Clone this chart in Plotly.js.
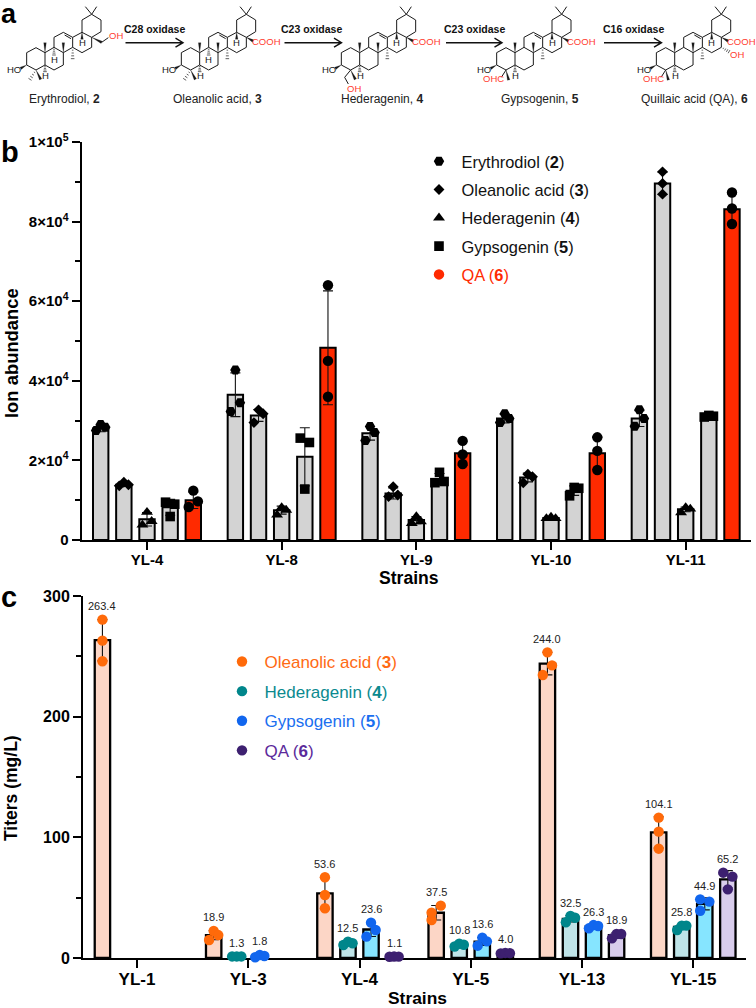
<!DOCTYPE html>
<html><head><meta charset="utf-8">
<script src="https://cdn.plot.ly/plotly-3.0.1.min.js"></script>
<style>html,body{margin:0;padding:0;background:#fff}</style></head>
<body><div id="chart" style="width:756px;height:1008px"></div>
<script>
// ---------- Panel b data ----------
const bStrains = ["YL-4","YL-8","YL-9","YL-10","YL-11"];
const bErythrodiolMean = [28000,36500,26800,30500,30500];
const bErythrodiolSd   = [800,5500,1700,1100,2000];
const bErythrodiolPts  = [[27500,29000,28300],[32300,42700,34500],[25000,28500,27000],[29500,31700,30500],[28600,32700,30500]];
const bOleanolicMean = [13900,31300,11700,15700,89600];
const bOleanolicSd   = [400,1500,1400,1100,2800];
const bOleanolicPts  = [[13600,14500,13900],[29500,32700,31700],[10900,13400,11300],[14400,16500,15900],[86900,92500,89600]];
const bHederageninMean = [5200,7500,5000,5500,7700];
const bHederageninSd   = [1700,1000,900,300,600];
const bHederageninPts  = [[3800,7000,4700],[6300,8200,7500],[4200,5900,4600],[5400,5800,5400],[6900,8200,7800]];
const bGypsogeninMean = [8200,20900,15300,12400,31100];
const bGypsogeninSd   = [2000,7300,1400,1200,300];
const bGypsogeninPts  = [[9500,5900,9000],[25600,12800,24500],[14400,17000,14700],[11100,13200,13000],[30900,31300,31100]];
const bQaMean = [10000,48300,21800,21800,83100];
const bQaSd   = [2100,14300,3000,4100,3900];
const bQaPts  = [[8300,12400,9700],[36000,64000,45000],[19100,24900,21500],[17600,25800,22400],[79400,87300,83300]];
const bErythrodiolSpread = ["LCR","LCR","LCR","LCR","LCR"];
const bOleanolicSpread   = ["LCR","LCR","LCR","LCR","CCC"];
const bHederageninSpread = ["LCR","LCR","LCR","LCR","LCR"];
const bGypsogeninSpread  = ["LCR","LCR","LCR","LCR","LCR"];
const bQaSpread          = ["LCR","CCC","CCC","CCC","CCC"];
const bTickVals = [0,20000,40000,60000,80000,100000];
const bTickText = ["0","2×10<sup>4</sup>","4×10<sup>4</sup>","6×10<sup>4</sup>","8×10<sup>4</sup>","1×10<sup>5</sup>"];
const bMinorVals = [10000,30000,50000,70000,90000];

// ---------- Panel c data ----------
const cStrains = ["YL-1","YL-3","YL-4","YL-5","YL-13","YL-15"];
const cOleanolicMean = [263.4,18.9,53.6,37.5,244.0,104.1];
const cOleanolicSd   = [17,3.8,13,6,9.4,12.9];
const cOleanolicPts  = [[245.9,263,280.4],[14.9,22.4,19],[41.2,52.2,66.9],[31.5,43.4,37.6],[234.5,253.3,242.5],[90.6,104.7,116.3]];
const cHederageninMean = [null,1.3,12.5,10.8,32.5,25.8];
const cHederageninSd   = [null,0.1,1.4,1.5,2.7,2];
const cHederageninPts  = [null,[1.3,1.3,1.3],[10.8,13.5,12.2],[9.5,11.8,11],[29.6,34.8,33.4],[23.2,26.8,26.8]];
const cGypsogeninMean = [null,1.8,23.6,13.6,26.3,44.9];
const cGypsogeninSd   = [null,1,5.8,3.3,1.4,5];
const cGypsogeninPts  = [null,[0.6,2.5,1.7],[17.7,29.3,23.2],[10.2,16.9,13.8],[24.6,27.3,26.5],[48.6,46.7,39.2]];
const cQaMean = [null,null,1.1,4.0,18.9,65.2];
const cQaSd   = [null,null,0.1,0.2,2.1,7.2];
const cQaPts  = [null,null,[1,1.2,1.1],[3.8,4.2,4],[16.3,19.9,19.9],[70.7,67.4,56.9]];
const cOleanolicSpread   = ["CCC","LCR","CCC","LRL","LCR","CCC"];
const cHederageninSpread = ["","LCR","LCR","LCR","LCR","LCR"];
const cGypsogeninSpread  = ["","LCR","LCR","LCR","LCR","LRL"];
const cQaSpread          = ["","","LCR","LCR","LCR","LRC"];
const cTickVals = [0,100,200,300];
const cMinorVals = [50,150,250];

// ---------- Panel a text ----------
const compounds = ["Erythrodiol, <b>2</b>","Oleanolic acid, <b>3</b>","Hederagenin, <b>4</b>","Gypsogenin, <b>5</b>","Quillaic acid (QA), <b>6</b>"];
const enzymes = ["C28 oxidase","C23 oxidase","C23 oxidase","C16 oxidase"];

// ---------- Page geometry (px) ----------
const W=756,H=1008;
const FONT='"Liberation Sans", Arial, sans-serif';
const px=x=>x/W, py=y=>1-y/H;
const B={l:81.5,r:751,t:142,b:540,x0:147,step:134.67,slotPx:23.15,barPx:15.4};
const C={l:83,r:746,t:596,b:958,x0:137,step:111.25,slotPx:23.05,barPx:15.4};
const DODGE=4.6;

function spreadPx(code){return {L:-DODGE,C:0,R:DODGE}[code]||0;}
function seriesTraces(G,xa,ya,sIdx,nS,mean,sd,pts,spread,barColor,dotColor,sym,size,lineW){
  const slot=(sIdx-(nS-1)/2)*G.slotPx/G.step;
  const xs=mean.map((_,i)=>i+slot);
  const bar={type:'bar',x:xs,y:mean,width:G.barPx/G.step,xaxis:xa,yaxis:ya,showlegend:false,hoverinfo:'skip',
    marker:{color:barColor,line:{color:'#000',width:lineW}},cliponaxis:false,
    error_y:{type:'data',array:sd,visible:true,color:'#111',thickness:1.1,width:5}};
  const dx=[],dy=[];
  pts.forEach((t,i)=>{ if(!t)return; t.forEach((v,k)=>{dx.push(xs[i]+spreadPx(spread[i][k])/G.step);dy.push(v);});});
  const dots={type:'scatter',mode:'markers',x:dx,y:dy,xaxis:xa,yaxis:ya,showlegend:false,hoverinfo:'skip',cliponaxis:false,
    marker:{color:dotColor,symbol:sym,size:size,line:{width:0}}};
  return [bar,dots];
}
function legendKey(name,color,sym,size,xa,ya,legend,group){
  return {type:'scatter',mode:'markers',x:[null],y:[null],xaxis:xa,yaxis:ya,name:name,legend:legend,legendgroup:group,showlegend:true,hoverinfo:'skip',
    marker:{color:color,symbol:sym,size:size,line:{width:0}}};
}
const GRAY='#d3d3d3',RED='#ff2a00';
const OR='#ff6a0a',TE='#00868b',BL='#1166ee',PU='#3d2070';
const span=(c,t)=>`<span style="color:${c}">${t}</span>`;

let traces=[];
[[bErythrodiolMean,bErythrodiolSd,bErythrodiolPts,bErythrodiolSpread,GRAY,'hexagon2',10.4],
 [bOleanolicMean,bOleanolicSd,bOleanolicPts,bOleanolicSpread,GRAY,'diamond',8.4],
 [bHederageninMean,bHederageninSd,bHederageninPts,bHederageninSpread,GRAY,'triangle-up',10.4],
 [bGypsogeninMean,bGypsogeninSd,bGypsogeninPts,bGypsogeninSpread,GRAY,'square',9.6],
 [bQaMean,bQaSd,bQaPts,bQaSpread,RED,'circle',10.4]
].forEach((s,i)=>{traces=traces.concat(seriesTraces(B,'x','y',i,5,s[0],s[1],s[2],s[3],s[4],'#000',s[5],s[6],2));});
[[cOleanolicMean,cOleanolicSd,cOleanolicPts,cOleanolicSpread,'#fcd6c6',OR],
 [cHederageninMean,cHederageninSd,cHederageninPts,cHederageninSpread,'#bfe4e8',TE],
 [cGypsogeninMean,cGypsogeninSd,cGypsogeninPts,cGypsogeninSpread,'#86e5ff',BL],
 [cQaMean,cQaSd,cQaPts,cQaSpread,'#d9cdec',PU]
].forEach((s,i)=>{traces=traces.concat(seriesTraces(C,'x2','y2',i,4,s[0],s[1],s[2],s[3],s[4],s[5],'circle',10.4,2.3));});

// legend keys
traces.push(legendKey('Erythrodiol (<b>2</b>)','#000','hexagon2',10.4,'x','y','legend','a1'));
traces.push(legendKey('Oleanolic acid (<b>3</b>)','#000','diamond',8.4,'x','y','legend','a2'));
traces.push(legendKey('Hederagenin (<b>4</b>)','#000','triangle-up',10.4,'x','y','legend','a3'));
traces.push(legendKey('Gypsogenin (<b>5</b>)','#000','square',9.6,'x','y','legend','a4'));
traces.push(legendKey(span('#ff2a00','QA (<b>6</b>)'),RED,'circle',10.4,'x','y','legend','a5'));
traces.push(legendKey(span('#ff6a13','Oleanolic acid (<b>3</b>)'),OR,'circle',10.4,'x2','y2','legend2','b1'));
traces.push(legendKey(span('#0b8a8f','Hederagenin (<b>4</b>)'),TE,'circle',10.4,'x2','y2','legend2','b2'));
traces.push(legendKey(span('#1a6ff0','Gypsogenin (<b>5</b>)'),BL,'circle',10.4,'x2','y2','legend2','b3'));
traces.push(legendKey(span('#5b2a9b','QA (<b>6</b>)'),PU,'circle',10.4,'x2','y2','legend2','b4'));

// ---------- Annotations ----------
const ann=[];
function txt(x,y,t,size,color,opts){ann.push(Object.assign({xref:'paper',yref:'paper',x:px(x),y:py(y),text:t,showarrow:false,xanchor:'center',yanchor:'middle',
  font:{family:FONT,size:size,color:color||'#111'},borderpad:0,borderwidth:0},opts||{}));}
txt(9,14,'<b>a</b>',27,'#000');
txt(10,152,'<b>b</b>',29,'#000');
txt(9,597,'<b>c</b>',29,'#000');
txt(11,353,'<b>Ion abundance</b>',18.4,'#000',{textangle:-90});
txt(11,788,'<b>Titers (mg/L)</b>',17.5,'#000',{textangle:-90});
txt(409,578,'<b>Strains</b>',17.6,'#000');
txt(417,997.5,'<b>Strains</b>',17.4,'#000');

// value labels above highest dot (panel c)
function valueLabels(G,sIdx,means,pts,xa,ya){
  const slot=(sIdx-1.5)*G.slotPx/G.step;
  means.forEach((m,i)=>{ if(m===null)return;
    ann.push({xref:xa,yref:ya,x:i+slot,y:Math.max(...pts[i]),yshift:13.5,text:m.toFixed(1),showarrow:false,yanchor:'middle',xanchor:'center',
      font:{family:FONT,size:11,color:'#222'}});});
}
valueLabels(C,0,cOleanolicMean,cOleanolicPts,'x2','y2');
valueLabels(C,1,cHederageninMean,cHederageninPts,'x2','y2');
valueLabels(C,2,cGypsogeninMean,cGypsogeninPts,'x2','y2');
valueLabels(C,3,cQaMean,cQaPts,'x2','y2');

// ---------- Panel a drawing (schematic, layout shapes) ----------
const shapes=[];
const INK='#1a1a1a',CHEMRED='#ff3b2f';
let linePath='',fillPath='',hashPath='';
const P=(x,y)=>`${px(x)},${py(y)}`;
function poly(dx,pts,close){let s='';pts.forEach((p,i)=>{s+=(i?'L':'M')+P(dx+p[0]/3,p[1]/3);});if(close)s+='Z';linePath+=s;}
function wedge(dx,a,b){const ax=dx+a[0]/3,ay=a[1]/3,bx=dx+b[0]/3,by=b[1]/3;const L=Math.hypot(bx-ax,by-ay),nx=-(by-ay)/L*1.3,ny=(bx-ax)/L*1.3;
  fillPath+=`M${P(ax,ay)}L${P(bx+nx,by+ny)}L${P(bx-nx,by-ny)}Z`;}
function hash(dx,a,b){const ax=dx+a[0]/3,ay=a[1]/3,bx=dx+b[0]/3,by=b[1]/3;const L=Math.hypot(bx-ax,by-ay),ux=(bx-ax)/L,uy=(by-ay)/L;
  for(let k=1;k<=4;k++){const t=k/4,c=[ax+(bx-ax)*t,ay+(by-ay)*t],w=0.4+1.4*t;
    hashPath+=`M${P(c[0]-uy*w,c[1]+ux*w)}L${P(c[0]+uy*w,c[1]-ux*w)}`;}}
function skeleton(dx,o){
  poly(dx,[[80,158],[108,143],[135,158],[135,195],[108,210],[80,195]],true);
  poly(dx,[[135,158],[162,142],[190,158],[190,195],[162,210],[135,195]]);
  poly(dx,[[162,142],[162,112],[190,97],[218,112],[218,142],[190,158]]);
  poly(dx,[[218,112],[246,97],[275,112],[275,142],[246,158],[218,142]]);
  poly(dx,[[246,97],[246,60],[275,43],[303,60],[303,95],[275,112]]);
  poly(dx,[[275,43],[256,20]]);poly(dx,[[275,43],[290,20]]);
  poly(dx,[[194,105],[213,116]]);
  wedge(dx,[135,158],[135,128]);wedge(dx,[190,158],[190,128]);
  hash(dx,[218,142],[218,176]);
  wedge(dx,[246,97],[246,118]);txt(dx+246/3,128/3,'H',9.5,INK);
  hash(dx,[135,195],[135,215]);txt(dx+137/3,227/3,'H',9.5,INK);
  if(o.h9){hash(dx,[162,142],[162,165]);txt(dx+162/3,177/3,'H',9.5,INK);}
  wedge(dx,[80,195],[62,205]);txt(dx+42/3,209/3,'HO',9.5,INK);
  if(o.c28==='OH'){wedge(dx,[275,112],[305,127]);poly(dx,[[305,127],[325,113]]);txt(dx+347/3,108/3,'OH',9.5,CHEMRED);}
  else{wedge(dx,[275,112],[295,123]);txt(dx+335/3,126/3,'COOH',9.5,CHEMRED);}
  if(o.c4==='Me'){hash(dx,[108,210],[90,238]);wedge(dx,[108,210],[122,238]);}
  if(o.c4==='OH'){wedge(dx,[108,210],[122,238]);poly(dx,[[108,210],[90,232],[101,252]]);txt(dx+118/3,264/3,'OH',9.5,CHEMRED);}
  if(o.c4==='CHO'){wedge(dx,[108,210],[116,240]);poly(dx,[[108,210],[94,232]]);txt(dx+70/3,237/3,'OHC',9.5,CHEMRED);}
  if(o.c16){hash(dx,[275,142],[298,155]);txt(dx+322/3,163/3,'OH',9.5,CHEMRED);}
}
skeleton(0,{c28:'OH',c4:'Me',h9:true});
skeleton(154.67,{c28:'COOH',c4:'Me',h9:true});
skeleton(314.67,{c28:'COOH',c4:'OH'});
skeleton(470,{c28:'COOH',c4:'CHO'});
skeleton(629.7,{c28:'COOH',c4:'CHO',c16:true});
shapes.push({type:'path',xref:'paper',yref:'paper',path:linePath,line:{color:INK,width:1},layer:'above'});
shapes.push({type:'path',xref:'paper',yref:'paper',path:hashPath,line:{color:INK,width:0.7},layer:'above'});
shapes.push({type:'path',xref:'paper',yref:'paper',path:fillPath,line:{color:INK,width:0.2},fillcolor:INK,layer:'above'});
// arrows
[[125.5,183],[284.5,341.5],[446,502],[604,661.5]].forEach(a=>{
  shapes.push({type:'path',xref:'paper',yref:'paper',path:`M${P(a[0],42.7)}L${P(a[1],42.7)}M${P(a[1]-7.5,38.2)}L${P(a[1],42.7)}L${P(a[1]-7.5,47.2)}`,line:{color:'#111',width:1.4}});
});
[154.3,311.5,475,633].forEach((x,i)=>txt(x,29,'<b>'+enzymes[i]+'</b>',10.5,'#111'));
[64.7,217.7,381.8,539.5,694.3].forEach((x,i)=>txt(x,99.3,compounds[i],12,'#222'));

// ---------- Axes ----------
const tickFont=s=>({family:FONT,size:s,color:'#000',weight:700});
function xAxis(G,labels,anchor,standoff,fs){return {domain:[px(G.l),px(G.r)],range:[(G.l-G.x0)/G.step,(G.r-G.x0)/G.step],anchor:anchor,
  tickmode:'array',tickvals:labels.map((_,i)=>i),ticktext:labels,ticks:'outside',ticklen:8,tickwidth:2,tickcolor:'#000',
  showline:true,linewidth:2,linecolor:'#000',showgrid:false,zeroline:false,layer:'below traces',tickfont:tickFont(fs),ticklabelstandoff:standoff};}
function yAxis(G,vals,text,minor,max,anchor,fs){return {domain:[py(G.b),py(G.t)],range:[0,max],anchor:anchor,
  tickmode:'array',tickvals:vals,ticktext:text,ticks:'outside',ticklen:8,tickwidth:2,tickcolor:'#000',
  minor:{tickmode:'array',tickvals:minor,ticks:'outside',ticklen:5,tickwidth:2,tickcolor:'#000',showgrid:false},
  showline:true,linewidth:2,linecolor:'#000',showgrid:false,zeroline:false,layer:'below traces',tickfont:tickFont(fs)};}

const xa1=xAxis(B,bStrains,'y',-3,15);
const ya1=yAxis(B,bTickVals,bTickText,bMinorVals,100000,'x',15);
const xa2=xAxis(C,cStrains,'y2',-3,17);
const ya2=yAxis(C,cTickVals,cTickVals.map(String),cMinorVals,300,'x2',16);

const layout={width:W,height:H,autosize:false,margin:{l:0,r:0,t:0,b:0,pad:0},paper_bgcolor:'#fff',plot_bgcolor:'rgba(0,0,0,0)',
  font:{family:FONT},barmode:'overlay',hovermode:false,
  xaxis:xa1,yaxis:ya1,xaxis2:xa2,yaxis2:ya2,annotations:ann,shapes:shapes,
  legend:{x:px(416.5),y:py(144),xanchor:'left',yanchor:'top',traceorder:'grouped',tracegroupgap:4,itemclick:false,itemdoubleclick:false,
    bgcolor:'rgba(0,0,0,0)',font:{family:FONT,size:16.4,color:'#111'},itemwidth:35},
  legend2:{x:px(219.5),y:py(644),xanchor:'left',yanchor:'top',traceorder:'grouped',tracegroupgap:4.5,itemclick:false,itemdoubleclick:false,
    bgcolor:'rgba(0,0,0,0)',font:{family:FONT,size:17,color:'#111'},itemwidth:35}
};
Plotly.newPlot('chart',traces,layout,{displayModeBar:false,staticPlot:true});
</script></body></html>
